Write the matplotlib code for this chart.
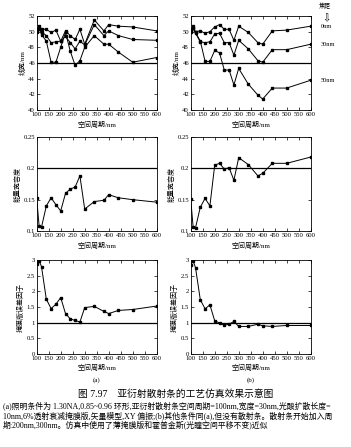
import matplotlib
matplotlib.use('Agg')
import matplotlib.pyplot as plt

plt.rcParams['font.family'] = ['Liberation Serif', 'Noto Sans CJK SC', 'DejaVu Sans']
plt.rcParams['axes.unicode_minus'] = False

# 空间周期 (nm)
period = [100, 110, 120, 140, 160, 180, 200, 220, 240, 260, 280, 300, 340, 380, 400, 440, 500, 600]

# (a) 有亚衍射散射条: 线宽 / nm，三个焦距
cd_a_0 = [50.0, 50.7, 50.3, 50.3, 49.9, 50.2, 48.8, 50.1, 49.5, 49.0, 50.3, 48.4, 51.5, 50.1, 50.9, 50.7, 50.6, 50.1]
cd_a_30 = [50.3, 50.4, 50.0, 49.5, 48.6, 48.7, 48.8, 49.4, 48.6, 47.8, 48.8, 48.3, 50.9, 49.5, 50.1, 49.5, 49.0, 48.9]
cd_a_50 = [50.2, 50.5, 49.6, 48.8, 46.1, 46.1, 48.0, 49.9, 47.5, 45.7, 46.3, 48.0, 49.5, 48.4, 48.4, 47.4, 46.1, 46.7]
# (b) 无散射条
cd_b_0 = [50.1, 50.5, 50.0, 50.1, 49.8, 50.0, 50.6, 50.9, 50.3, 50.3, 48.9, 50.7, 49.9, 48.6, 48.4, 50.1, 50.2, 50.7]
cd_b_30 = [50.2, 50.5, 49.8, 48.7, 48.6, 48.7, 49.7, 49.8, 48.6, 48.6, 47.0, 48.9, 47.8, 46.3, 46.1, 47.7, 47.7, 48.4]
cd_b_50 = [50.0, 50.7, 49.9, 48.8, 46.2, 46.2, 47.6, 47.3, 45.1, 45.1, 43.2, 45.3, 43.3, 41.9, 41.4, 42.8, 42.8, 43.8]

# 能量宽容度
el_a = [0.152, 0.108, 0.106, 0.140, 0.153, 0.142, 0.132, 0.160, 0.167, 0.170, 0.188, 0.135, 0.147, 0.149, 0.158, 0.153, 0.150, 0.146]
el_b = [0.151, 0.107, 0.105, 0.138, 0.152, 0.140, 0.205, 0.208, 0.199, 0.201, 0.181, 0.217, 0.206, 0.188, 0.192, 0.208, 0.208, 0.218]

# 掩膜版误差因子
meef_a = [2.87, 2.98, 2.79, 1.75, 1.45, 1.59, 1.80, 1.29, 1.12, 1.07, 1.02, 1.48, 1.52, 1.36, 1.29, 1.39, 1.42, 1.53]
meef_b = [2.84, 2.97, 2.76, 1.73, 1.44, 1.57, 1.06, 0.99, 0.92, 0.95, 1.04, 0.88, 0.88, 0.95, 0.90, 0.88, 0.91, 0.91]

xticks = list(range(100, 601, 50))
focus_labels = ['0nm', '30nm', '50nm']

fs = 4.8
W, H = 351, 447
fig = plt.figure(figsize=(W / 100, H / 100), dpi=100)


def make_ax(left_px, top_px, w_px=120, h_px=94):
    return fig.add_axes([left_px / W, 1 - (top_px + h_px) / H, w_px / W, h_px / H])


def style(ax, ylim, yticks, ylabel, ref):
    ax.set_xlim(100, 600)
    ax.set_ylim(*ylim)
    ax.set_xticks(xticks)
    ax.set_yticks(yticks)
    ax.tick_params(direction='in', length=2, width=0.5, labelsize=fs, pad=1.2,
                   top=True, right=True)
    for s in ax.spines.values():
        s.set_linewidth(0.6)
    ax.axhline(ref, color='k', lw=0.9)
    ax.set_xlabel('空间周期/nm', fontsize=5, labelpad=3)
    ax.set_ylabel(ylabel, fontsize=5, labelpad=2)


def plot_line(ax, y):
    ax.plot(period, y, color='k', lw=0.7, marker='s', ms=1.5)


lefts = [36.7, 190.7]
tops = [16, 137, 260]

# 线宽
for col, series in enumerate([(cd_a_0, cd_a_30, cd_a_50), (cd_b_0, cd_b_30, cd_b_50)]):
    ax = make_ax(lefts[col], tops[0])
    for y in series:
        plot_line(ax, y)
    style(ax, (40, 52), range(40, 53, 2), '线宽/nm', 46)
    if col == 1:
        ax.text(1.07, 1.11, '焦距', transform=ax.transAxes, fontsize=4.3, ha='left', va='center')
        ax.text(1.1, 0.98, '⇩', transform=ax.transAxes, fontsize=7, ha='left', va='center',
                family=['DejaVu Sans'])
        for y, lab in zip(series, focus_labels):
            ax.text(1.08, (y[-1] - 40) / 12, lab, transform=ax.transAxes, fontsize=4.5,
                    ha='left', va='center')

# 能量宽容度
for col, y in enumerate([el_a, el_b]):
    ax = make_ax(lefts[col], tops[1])
    plot_line(ax, y)
    style(ax, (0.1, 0.25), [0.1, 0.15, 0.2, 0.25], '能量宽容度', 0.2)
    ax.set_yticklabels(['0.1', '0.15', '0.2', '0.25'])

# 掩膜版误差因子
for col, y in enumerate([meef_a, meef_b]):
    ax = make_ax(lefts[col], tops[2])
    plot_line(ax, y)
    style(ax, (0, 3), [0, 0.5, 1, 1.5, 2, 2.5, 3], '掩膜版误差因子', 1)
    ax.set_yticklabels(['0', '0.5', '1', '1.5', '2', '2.5', '3'])
    ax.xaxis.labelpad = 2
    ax.text(0.5, -0.28, '(a)' if col == 0 else '(b)', transform=ax.transAxes,
            fontsize=5, ha='center', va='center')

fig.text(0.5, 1 - 394 / H, '图 7.97    亚衍射散射条的工艺仿真效果示意图',
         fontsize=7, ha='center', va='center')
caption = [
    '(a)照明条件为 1.30NA,0.85~0.96 环形,亚衍射散射条空间周期=100nm,宽度=30nm,光酸扩散长度=',
    '10nm,6%透射衰减掩膜版,矢量模型,XY 偏振;(b)其他条件同(a),但没有散射条。散射条开始加入周',
    '期:200nm,300nm。仿真中使用了薄掩膜版和霍普金斯(光瞳空间平移不变)近似',
]
for i, line in enumerate(caption):
    fig.text(3 / W, 1 - (406 + 9.3 * i) / H, line, fontsize=5.7, ha='left', va='center')

fig.savefig('out.png', dpi=100)
